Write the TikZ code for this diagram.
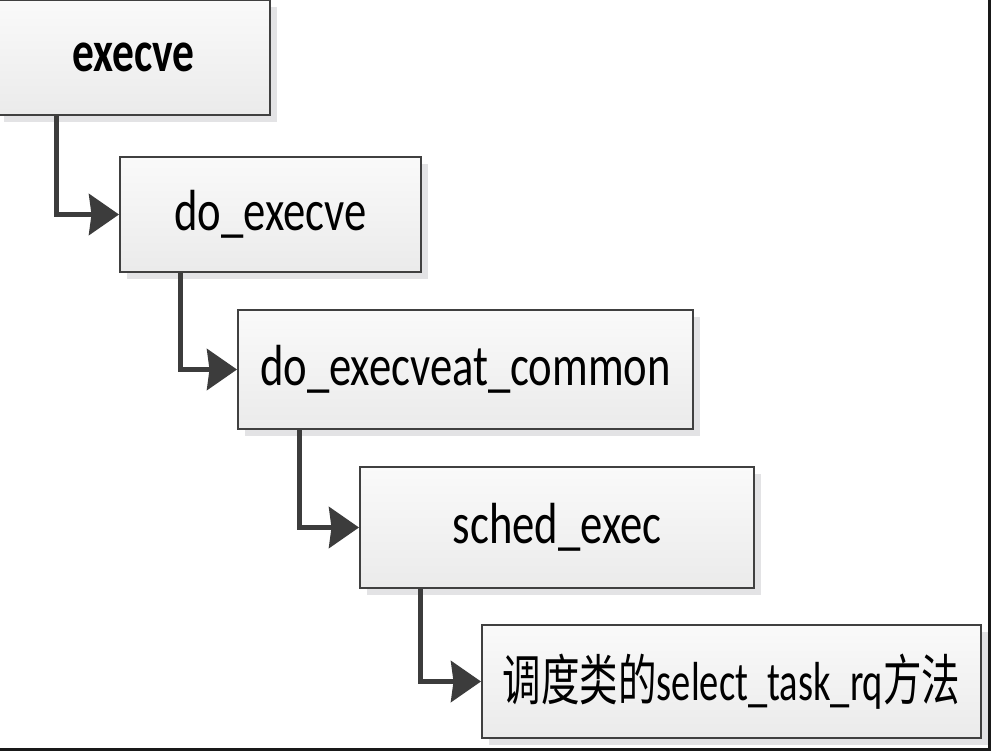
\documentclass[tikz,border=0pt]{standalone}
\usepackage{fontspec}
\setmainfont{Carlito}
\newfontfamily\cjk{Noto Sans CJK SC}
\usetikzlibrary{arrows.meta,shadows}
\definecolor{boxline}{HTML}{404040}
\definecolor{conncol}{HTML}{3C3C3C}
\definecolor{shadowcol}{HTML}{E3E3E5}
\newcommand{\boxtxt}[2]{\scalebox{#1}[1]{\fontsize{58}{60}\selectfont #2}}
\tikzset{
  fnbox/.style={draw=boxline, line width=2pt, rectangle, inner sep=0pt,
    top color=white!98!black, bottom color=white!92!black,
    drop shadow={shadow xshift=7pt, shadow yshift=-7pt, fill=shadowcol, opacity=1},
    align=center},
  conn/.style={draw=conncol, line width=5pt,
    -{Stealth[length=30pt, width=41pt, inset=2.5pt]}}
}
\begin{document}
\begin{tikzpicture}[x=1pt,y=-1pt]
\useasboundingbox (0,0) rectangle (991,751);
\fill[white] (0,0) rectangle (991,751);
\node[fnbox, minimum width=273pt, minimum height=115pt] (A) at (133.5,57.5)
  {\boxtxt{0.75}{\bfseries execve}};
\node[fnbox, minimum width=301pt, minimum height=115pt] (B) at (270.5,214.5)
  {\boxtxt{0.77}{do\_execve}};
\node[fnbox, minimum width=455pt, minimum height=119pt] (C) at (465.5,369.5)
  {\boxtxt{0.77}{do\_execveat\_common}};
\node[fnbox, minimum width=394pt, minimum height=121pt] (D) at (557,527.5)
  {\boxtxt{0.77}{sched\_exec}};
\node[fnbox, minimum width=499pt, minimum height=113pt] (E) at (731.5,681.5)
  {\scalebox{0.7}[1]{\fontsize{55}{57}\selectfont{\cjk 调度类的}select\_task\_rq{\cjk 方法}}};
\draw[conn] ([xshift=60pt]A.south west) |- (B.west);
\draw[conn] ([xshift=61pt]B.south west) |- (C.west);
\draw[conn] ([xshift=62pt]C.south west) |- (D.west);
\draw[conn] ([xshift=61pt]D.south west) |- (E.west);
\coordinate (tr) at (989.5,0);
\coordinate (br) at (989.5,749.5);
\coordinate (bl) at (0,749.5);
\draw[line width=3pt, black!90] (tr) -- (br) -- (bl);
\end{tikzpicture}
\end{document}
